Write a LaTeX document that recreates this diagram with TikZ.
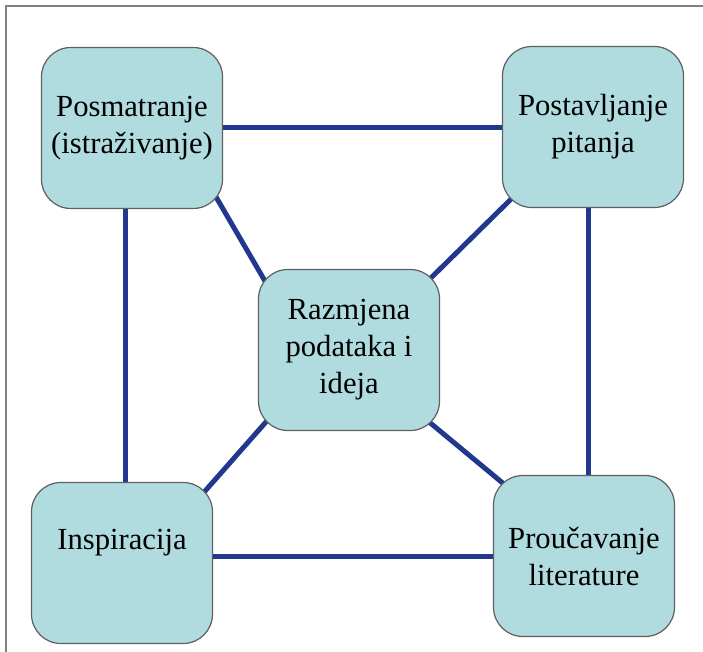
\documentclass[tikz,border=0pt]{standalone}
\usepackage{fontspec}
\setmainfont{Liberation Serif}
\usetikzlibrary{backgrounds}
\definecolor{boxfill}{RGB}{176,220,224}
\definecolor{boxline}{RGB}{95,95,95}
\definecolor{linkblue}{RGB}{33,56,142}
\tikzset{
  stagebox/.style={draw=boxline, fill=boxfill, line width=0.9pt, rounded corners=22pt,
    minimum width=135.75pt, minimum height=120.75pt, align=center,
    font=\fontsize{23}{27.75}\selectfont},
  link/.style={draw=linkblue, line width=3.75pt},
  cornerlink/.style={link, shorten <=-12pt, shorten >=-12pt}
}
\begin{document}
\begin{tikzpicture}[x=0.75pt, y=-0.75pt]
  \useasboundingbox (0, 0) rectangle (703, 652);
  \draw[gray, line width=0.8pt] (6, 652) -- (6, 6) -- (703, 6);

  \node[stagebox] (posm) at (132, 128) {Posmatranje\\(istraživanje)};
  \node[stagebox] (pit) at (593, 127) {Postavljanje\\pitanja};
  \node[stagebox] (raz) at (349, 350) {Razmjena\\podataka i\\ideja};
  \node[stagebox] (insp) at (122, 563) {\raisebox{15pt}[\height][\depth]{Inspiracija}};
  \node[stagebox] (lit) at (584, 556) {Proučavanje\\literature};

  \begin{scope}[on background layer]
    \draw[link] (posm.east) -- (posm.east -| pit.west);
    \draw[link] (lit.west -| insp.east) -- (lit.west);
    \draw[link] ([xshift=2.25pt]insp.north) -- ([xshift=2.25pt]insp.north |- posm.south);
    \draw[link] ([xshift=-3.75pt]pit.south) -- ([xshift=-3.75pt]pit.south |- lit.north);
    \draw[cornerlink] (posm.south east) -- (raz.north west);
    \draw[cornerlink] (pit.south west) -- (raz.north east);
    \draw[cornerlink] (insp.north east) -- (raz.south west);
    \draw[cornerlink] (lit.north west) -- (raz.south east);
  \end{scope}
\end{tikzpicture}
\end{document}
